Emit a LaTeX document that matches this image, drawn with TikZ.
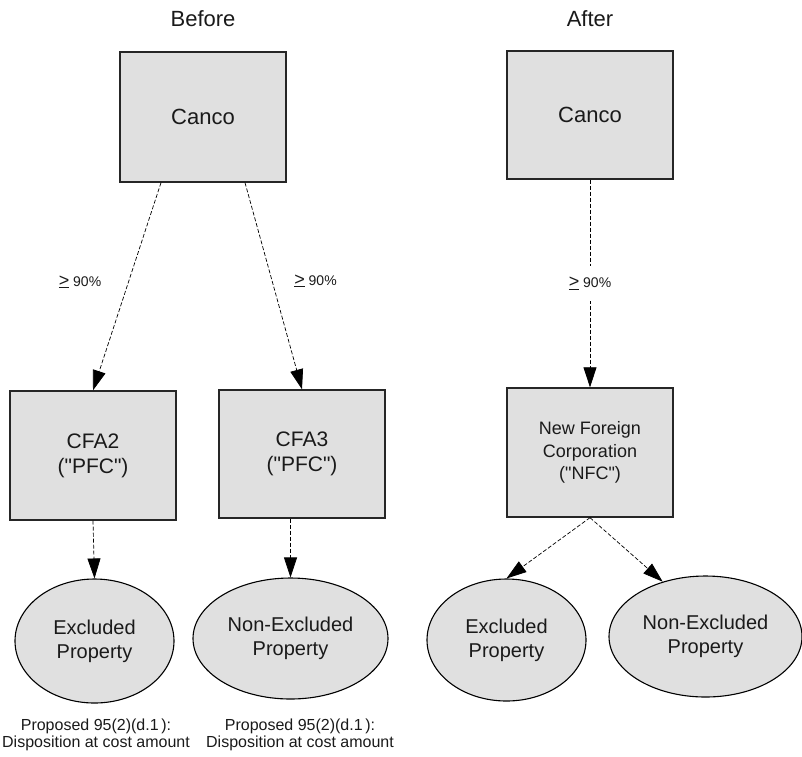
\documentclass[tikz,border=0pt]{standalone}
\usepackage{fontspec}
\setmainfont{Liberation Sans}[Ligatures=TeXOff]
\usetikzlibrary{arrows.meta,shapes.geometric,calc}
\definecolor{boxfill}{HTML}{E0E0E0}
\definecolor{ink}{HTML}{1A1A1A}
\newcommand{\atleastmark}{{\fontsize{18}{18}\selectfont\underline{>}}}
\begin{document}
\begin{tikzpicture}[x=1pt,y=-1pt,
  entity/.style={draw=black!85, line width=1.3pt, fill=boxfill, rectangle,
    minimum width=166pt, inner sep=0pt, align=center, text=ink},
  asset/.style={draw=black, line width=1.1pt, fill=boxfill, ellipse,
    inner sep=0pt, align=center, text=ink, font=\fontsize{20}{24}\selectfont},
  link/.style={dash pattern=on 4pt off 2pt, line width=0.7pt,
    -{Triangle[length=20pt,width=13pt]}},
  pct/.style={font=\fontsize{14}{16}\selectfont, inner sep=1pt, text=ink},
  heading/.style={font=\fontsize{22}{24}\selectfont, text=ink},
  note/.style={align=center, text=ink, font=\fontsize{16}{17}\selectfont}
]
\useasboundingbox (0,0) rectangle (802,756);

% column headings
\node[heading] (before) at (203,19) {Before};
\node[heading] (after)  at (590,19) {After};

% Before: ownership structure
\node[entity, minimum height=130pt, font=\fontsize{22}{25}\selectfont]
  (canco1) at (203,117) {Canco};
\node[entity, minimum height=129pt, font=\fontsize{21}{25}\selectfont]
  (cfa2) at (93,455.5) {CFA2\\("PFC")};
\node[entity, minimum height=128pt, font=\fontsize{21}{25}\selectfont]
  (cfa3) at (302,454) {CFA3\\("PFC")};
\node[asset, minimum width=159pt, minimum height=124pt]
  (exc1) at (94.5,641) {Excluded\\Property};
\node[asset, minimum width=195pt, minimum height=121pt]
  (nonexc1) at (290.5,638.5) {Non-Excluded\\Property};

% After: ownership structure
\node[entity, minimum height=128pt, font=\fontsize{22}{25}\selectfont]
  (canco2) at (590,115) {Canco};
\node[entity, minimum height=129pt, font=\fontsize{18}{22.5}\selectfont]
  (nfc) at (590,452.5) {New Foreign\\Corporation\\("NFC")};
\node[asset, minimum width=159pt, minimum height=122pt]
  (exc2) at (506.5,640) {Excluded\\Property};
\node[asset, minimum width=193pt, minimum height=121pt]
  (nonexc2) at (705.5,636.5) {Non-Excluded\\Property};

% percentage labels
\node[pct] (p1) at (80,282) {\atleastmark\ 90\%};
\node[pct] (p2) at (315.5,281) {\atleastmark\ 90\%};

% connectors
\draw[link] ($(canco1.south)+(-42,0)$) -- (cfa2.north);
\draw[link] ($(canco1.south)+(42,0)$) -- (cfa3.north);
\draw[link] (cfa2.south) -- (exc1.north);
\draw[link] (nonexc1.north |- cfa3.south) -- (nonexc1.north);

\draw[link] (canco2.south) -- (nfc.north)
  node[pct, pos=0.5, fill=white, inner xsep=2pt, inner ysep=11pt] (p3) {\atleastmark\ 90\%};
\draw[link] (nfc.south) -- (exc2.north);
\draw[link] (nfc.south) -- (nonexc2.128);

% notes under the Before properties
\node[note] (n1) at (96,735) {Proposed 95(2)(d.1\,):\\Disposition at cost amount};
\node[note] (n2) at (300,735) {Proposed 95(2)(d.1\,):\\Disposition at cost amount};
\end{tikzpicture}
\end{document}
